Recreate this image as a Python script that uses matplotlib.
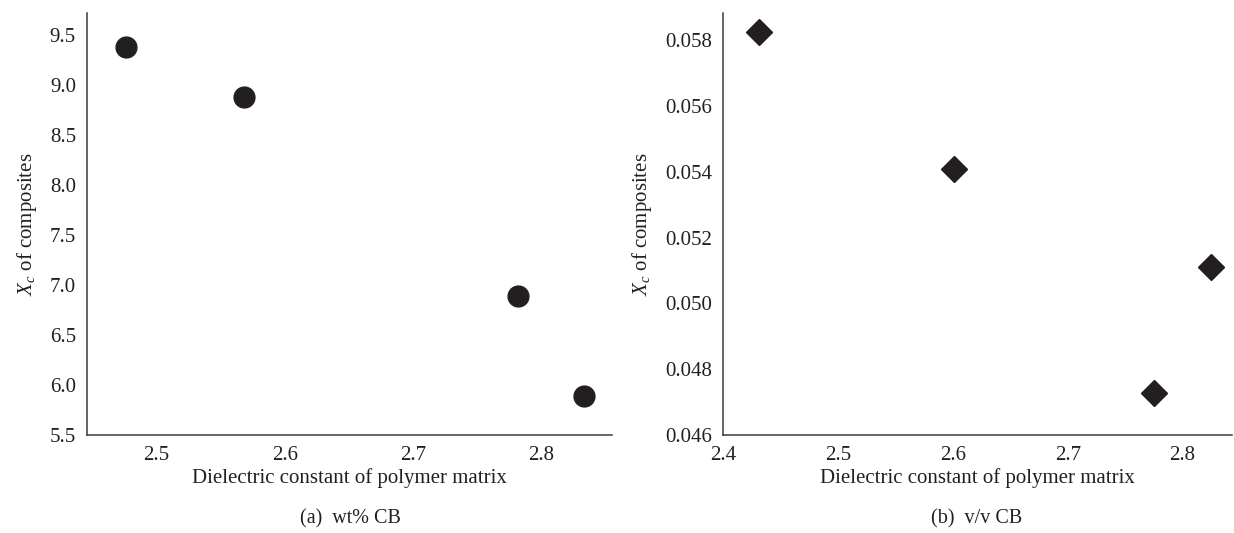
import matplotlib
matplotlib.use("Agg")
import matplotlib.pyplot as plt

# Data
eps_wt = [2.476, 2.568, 2.782, 2.833]
xc_wt = [9.38, 8.88, 6.89, 5.89]
eps_vv = [2.431, 2.601, 2.775, 2.825]
xc_vv = [0.05823, 0.05409, 0.04728, 0.05111]

xticks_a = [2.5, 2.6, 2.7, 2.8]
yticks_a = [5.5, 6.0, 6.5, 7.0, 7.5, 8.0, 8.5, 9.0, 9.5]
xticks_b = [2.4, 2.5, 2.6, 2.7, 2.8]
yticks_b = [0.046, 0.048, 0.050, 0.052, 0.054, 0.056, 0.058]

plt.rcParams['font.family'] = ['Liberation Serif', 'DejaVu Serif']
plt.rcParams['mathtext.fontset'] = 'custom'
plt.rcParams['mathtext.it'] = 'Liberation Serif:italic'
plt.rcParams['mathtext.rm'] = 'Liberation Serif'

W, H = 1234, 533
fig = plt.figure(figsize=(W / 100, H / 100), dpi=100)

ink = '#231f20'
fs = 15

def style(ax):
    for s in ['top', 'right']:
        ax.spines[s].set_visible(False)
    for s in ['left', 'bottom']:
        ax.spines[s].set_color('#3a3a3a')
        ax.spines[s].set_linewidth(1.1)
    ax.tick_params(length=0, labelsize=fs, colors=ink, pad=8)
    ax.set_xlabel('Dielectric constant of polymer matrix', fontsize=fs, color=ink, labelpad=2)
    ax.set_ylabel(r'$X_c$ of composites', fontsize=fs, color=ink, labelpad=8)

# Panel (a)
ax1 = fig.add_axes([87 / W, 1 - 435 / H, (612 - 87) / W, (435 - 12.7) / H])
ax1.plot(eps_wt, xc_wt, 'o', color=ink, markersize=15, clip_on=False)
ax1.set_xlim(2.446, 2.855)
ax1.set_ylim(5.5, 9.72)
ax1.set_xticks(xticks_a)
ax1.set_xticklabels([f'{v:.1f}' for v in xticks_a])
ax1.set_yticks(yticks_a)
ax1.set_yticklabels([f'{v:.1f}' for v in yticks_a])
style(ax1)

# Panel (b)
ax2 = fig.add_axes([723 / W, 1 - 435 / H, (1232 - 723) / W, (435 - 12.7) / H])
ax2.plot(eps_vv, xc_vv, 'D', color=ink, markersize=13, clip_on=False)
ax2.set_xlim(2.4, 2.843)
ax2.set_ylim(0.046, 0.05883)
ax2.set_xticks(xticks_b)
ax2.set_xticklabels([f'{v:.1f}' for v in xticks_b])
ax2.set_yticks(yticks_b)
ax2.set_yticklabels([f'{v:.3f}' for v in yticks_b])
style(ax2)

fig.text(350 / W, 1 - 519 / H, '(a)  wt% CB', ha='center', va='center', fontsize=14.5, color=ink)
fig.text(977 / W, 1 - 519 / H, '(b)  v/v CB', ha='center', va='center', fontsize=14.5, color=ink)

fig.savefig('out.png', dpi=100)
